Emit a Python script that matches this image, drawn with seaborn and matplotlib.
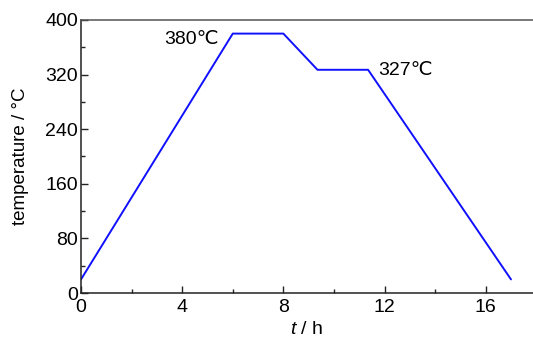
import matplotlib
matplotlib.use("Agg")
import matplotlib.pyplot as plt
import seaborn as sns
import pandas as pd
from matplotlib.ticker import MultipleLocator

time_h = [0, 6.0, 8.0, 9.35, 11.35, 17.0]
temperature = [20, 380, 380, 327, 327, 20]
annotations = ["380℃", "327℃"]

sns.set_theme(style="ticks")
plt.rcParams['font.family'] = ['Liberation Sans', 'DejaVu Sans']
plt.rcParams['text.color'] = 'black'
plt.rcParams['axes.labelcolor'] = 'black'
plt.rcParams['xtick.color'] = 'black'
plt.rcParams['ytick.color'] = 'black'
plt.rcParams['mathtext.fontset'] = 'custom'
plt.rcParams['mathtext.it'] = 'Liberation Sans:italic'
plt.rcParams['mathtext.rm'] = 'Liberation Sans'

df = pd.DataFrame({"t": time_h, "T": temperature})

fig = plt.figure(figsize=(5.33, 3.38), dpi=100)
ax = fig.add_axes([0.152, 0.133, 0.848, 0.808])
sns.lineplot(data=df, x="t", y="T", ax=ax, color="#1010ff", linewidth=1.4, sort=False)

ax.set_xlim(0, 17.87)
ax.set_ylim(0, 400)
ax.xaxis.set_major_locator(MultipleLocator(4))
ax.xaxis.set_minor_locator(MultipleLocator(2))
ax.yaxis.set_major_locator(MultipleLocator(80))
ax.yaxis.set_minor_locator(MultipleLocator(40))
ax.tick_params(which="both", direction="in", labelsize=14, color="#222222")
ax.tick_params(axis="y", pad=2)
ax.tick_params(axis="x", pad=4)
ax.tick_params(which="major", length=5, width=1)
ax.tick_params(which="minor", length=3, width=1)
ax.spines["right"].set_visible(False)
for s in ["left", "bottom", "top"]:
    ax.spines[s].set_linewidth(1.1)
    ax.spines[s].set_color("#222222")
ax.spines["top"].set_color("#555555")

ax.set_xlabel("$t$ / h", fontsize=14, labelpad=4)
ax.set_ylabel("temperature / °C", fontsize=13.5, labelpad=12)

ax.text(time_h[1] - 0.55, temperature[1] - 8, annotations[0], fontsize=14,
        ha="right", va="center")
ax.text(time_h[4] + 0.4, temperature[4] - 1, annotations[1], fontsize=14,
        ha="left", va="center")

fig.savefig("out.png", dpi=100)
